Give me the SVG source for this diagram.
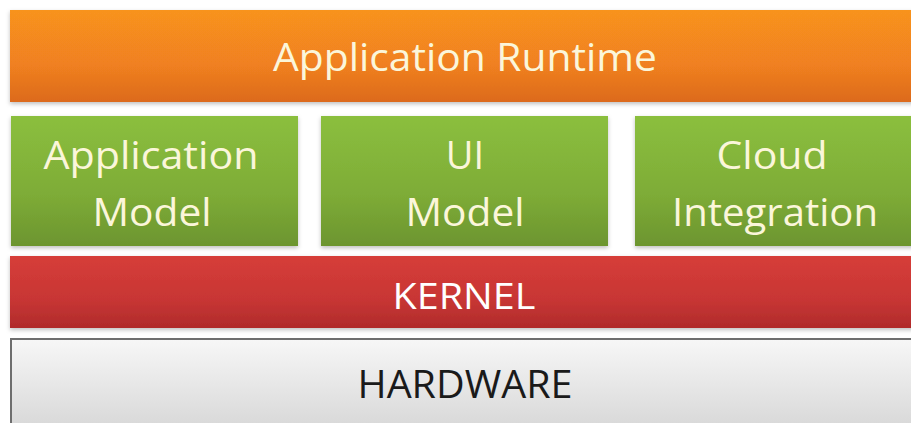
<svg xmlns="http://www.w3.org/2000/svg" width="911" height="423" viewBox="0 0 911 423">
<defs>
<linearGradient id="gOrange" x1="0" y1="0" x2="0" y2="1">
<stop offset="0" stop-color="#f8931f"/><stop offset="0.6" stop-color="#f08020"/><stop offset="1" stop-color="#dc6a1c"/>
</linearGradient>
<linearGradient id="gGreen" x1="0" y1="0" x2="0" y2="1">
<stop offset="0" stop-color="#8bbf3e"/><stop offset="0.6" stop-color="#7eac37"/><stop offset="1" stop-color="#6c952f"/>
</linearGradient>
<linearGradient id="gRed" x1="0" y1="0" x2="0" y2="1">
<stop offset="0" stop-color="#d63d39"/><stop offset="0.6" stop-color="#c83634"/><stop offset="1" stop-color="#b02b2b"/>
</linearGradient>
<linearGradient id="gGray" x1="0" y1="0" x2="0" y2="1">
<stop offset="0" stop-color="#f7f7f7"/><stop offset="1" stop-color="#d4d4d4"/>
</linearGradient>
<filter id="sh" x="-5%" y="-5%" width="110%" height="120%">
<feDropShadow dx="0" dy="2" stdDeviation="2" flood-color="#000" flood-opacity="0.25"/>
</filter>
</defs>
<style>
text{font-family:"Open Sans","Noto Sans","Liberation Sans",sans-serif;text-anchor:middle}
.lt{fill:#fbf6da}
.wt{fill:#ffffff}
.dk{fill:#1a1a1a}
</style>
<rect width="911" height="423" fill="#ffffff"/>
<g id="runtime">
<rect x="10" y="10" width="910" height="92" fill="url(#gOrange)" filter="url(#sh)"/>
<text class="lt" x="465" y="71" font-size="39" textLength="384" lengthAdjust="spacingAndGlyphs">Application Runtime</text>
</g>
<g id="appmodel">
<rect x="11" y="116" width="287" height="130" fill="url(#gGreen)" filter="url(#sh)"/>
<text class="lt" x="151" y="169" font-size="39" textLength="215" lengthAdjust="spacingAndGlyphs">Application</text>
<text class="lt" x="152" y="226" font-size="39" textLength="119" lengthAdjust="spacingAndGlyphs">Model</text>
</g>
<g id="uimodel">
<rect x="321" y="116" width="287" height="130" fill="url(#gGreen)" filter="url(#sh)"/>
<text class="lt" x="465" y="169" font-size="38">UI</text>
<text class="lt" x="465" y="226" font-size="39" textLength="119" lengthAdjust="spacingAndGlyphs">Model</text>
</g>
<g id="cloud">
<rect x="635" y="116" width="290" height="130" fill="url(#gGreen)" filter="url(#sh)"/>
<text class="lt" x="772" y="169" font-size="39" textLength="111" lengthAdjust="spacingAndGlyphs">Cloud</text>
<text class="lt" x="775" y="226" font-size="39" textLength="206" lengthAdjust="spacingAndGlyphs">Integration</text>
</g>
<g id="kernel">
<rect x="10" y="256" width="910" height="72" fill="url(#gRed)" filter="url(#sh)"/>
<text class="wt" x="464" y="309" font-size="37" textLength="143" lengthAdjust="spacingAndGlyphs">KERNEL</text>
</g>
<g id="hardware">
<rect x="11" y="339" width="910" height="100" fill="url(#gGray)" stroke="#6e6e6e" stroke-width="2"/>
<text class="dk" x="465" y="398" font-size="38" textLength="215" lengthAdjust="spacingAndGlyphs">HARDWARE</text>
</g>
<g id="connectors"/>
</svg>
